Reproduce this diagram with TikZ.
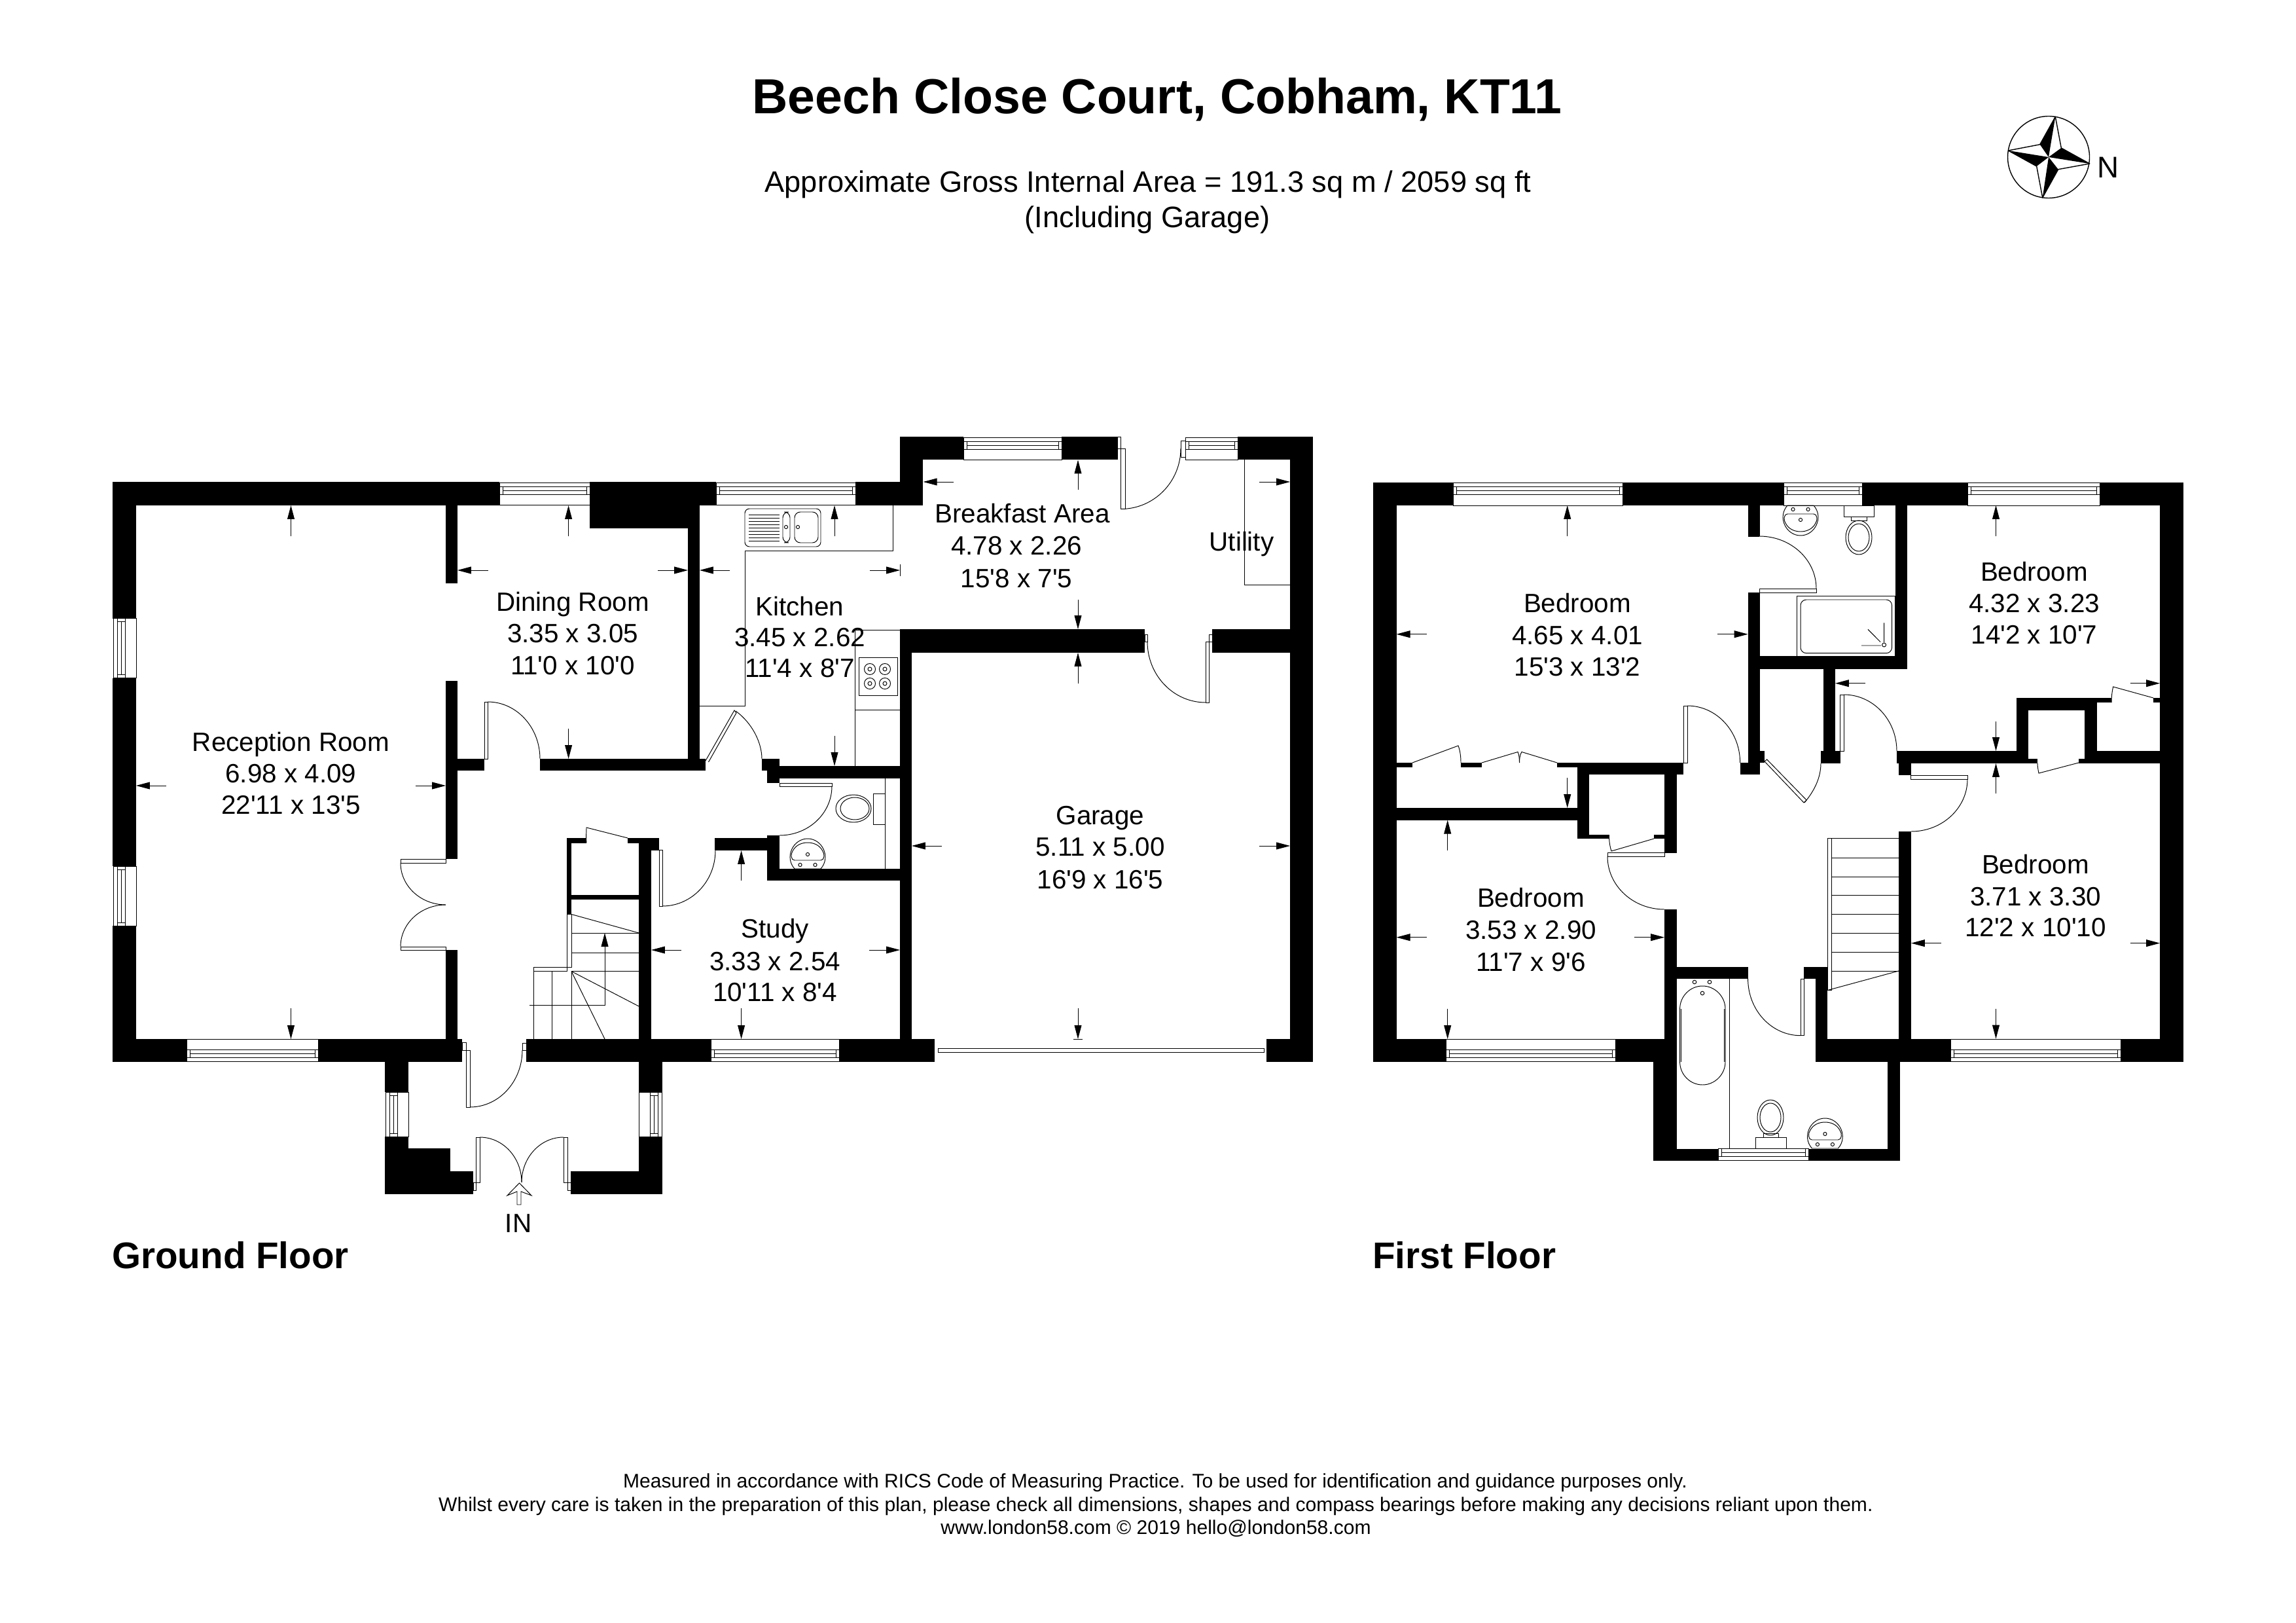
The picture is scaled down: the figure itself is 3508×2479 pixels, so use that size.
\documentclass[tikz,border=0pt]{standalone}
\usepackage{fontspec}
\setmainfont{Liberation Sans}
\newfontfamily\rf{Liberation Sans}
\usetikzlibrary{arrows.meta}
\tikzset{
  wall/.style={fill=black,draw=none},
  fine/.style={draw=black,line width=0.55pt},
  glass/.style={draw=black,line width=0.5pt,fill=white},
  dimarrow/.style={draw=black,line width=0.5pt,-{Triangle[length=11.9pt,width=6.2pt]}},
  room/.style={anchor=base,inner sep=0pt,font=\rf\fontsize{23}{28}\selectfont},
  small/.style={anchor=base,inner sep=0pt,font=\rf\fontsize{17.1}{20}\selectfont},
  floorname/.style={anchor=base west,inner sep=0pt,font=\rf\fontsize{32.2}{36}\selectfont\bfseries},
  subhead/.style={anchor=base,inner sep=0pt,font=\rf\fontsize{25.75}{30}\selectfont},
}
% wall block
\newcommand\W[4]{\fill[wall] (#1,#2) rectangle (#3,#4);}
% door leaf / thin box
\newcommand\Lf[4]{\draw[fine] (#1,#2) rectangle (#3,#4);}
% quarter arc: tangent horizontal at the start, vertical at the end
\newcommand\Qa[4]{\draw[fine] (#1,#2) .. controls ({#1+0.5523*(#3-#1)},#2) and (#3,{#4+0.5523*(#2-#4)}) .. (#3,#4);}
% horizontal window, outer face at y=#3, inner face at y=#4
\newcommand\Hw[4]{\draw[glass] (#1,#3) rectangle (#2,#4);
  \pgfmathsetmacro\sg{(#4>#3)?1:-1}
  \draw[fine] (#1,{#3+6*\sg}) rectangle (#2,{#3+18*\sg});
  \draw[fine] ({#1+5},{#3+6*\sg}) -- ({#1+5},{#3+18*\sg}) ({#2-5},{#3+6*\sg}) -- ({#2-5},{#3+18*\sg});
  \draw[fine] ({#1+5},{#3+12*\sg}) -- ({#2-5},{#3+12*\sg});}
% vertical window, outer face at x=#1, inner face at x=#2
\newcommand\Vw[4]{\draw[glass] (#1,#3) rectangle (#2,#4);
  \pgfmathsetmacro\sg{(#2>#1)?1:-1}
  \draw[fine] ({#1+6*\sg},#3) rectangle ({#1+18*\sg},#4);
  \draw[fine] ({#1+6*\sg},{#3+5}) -- ({#1+18*\sg},{#3+5}) ({#1+6*\sg},{#4-5}) -- ({#1+18*\sg},{#4-5});
  \draw[fine] ({#1+12*\sg},{#3+5}) -- ({#1+12*\sg},{#4-5});}
% arrow from tail to tip
\newcommand\Da[4]{\draw[dimarrow] (#1,#2) -- (#3,#4);}
% wash basin, flat side down (#3=1) or up (#3=-1)
\newcommand\Basin[3]{\begin{scope}[shift={(#1,#2)},yscale=#3]
  \draw[fine] (-20,23) -- (20,23) .. controls (36,5) and (22,-23) .. (0,-23) .. controls (-22,-23) and (-36,5) .. (-20,23) -- cycle;
  \draw[fine] (-20,10) -- (20,10) .. controls (26,10) and (26,0) .. (23,-4) .. controls (18,-14) and (8,-17) .. (0,-17) .. controls (-8,-17) and (-18,-14) .. (-23,-4) .. controls (-26,0) and (-26,10) .. (-20,10) -- cycle;
  \draw[fine] (-11.5,17) circle [radius=2.6] (11.5,17) circle [radius=2.6] (0,1) circle [radius=2.6];
  \end{scope}}
\begin{document}
\begin{tikzpicture}[x=0.2mm,y=-0.2mm]
\useasboundingbox (0,0) rectangle (3508,2479);
\fill[white] (0,0) rectangle (3508,2479);

% ---------------- GROUND FLOOR walls
\W{172}{736}{763}{772} \W{901}{736}{1094}{772} \W{1307}{736}{1410}{772}
\W{901}{772}{1051}{807}
\W{172}{736}{208}{944.5} \W{172}{1035.5}{208}{1323} \W{172}{1414}{208}{1622}
\W{172}{1587}{285}{1622} \W{486}{1587}{706}{1622} \W{804}{1587}{1086}{1622} \W{1282}{1587}{1428}{1622}
\W{681}{772}{699}{891} \W{681}{1040}{699}{1312} \W{681}{1451}{699}{1587}
\W{699}{1159}{740}{1177} \W{825}{1159}{1078}{1177}
\W{1051}{772}{1069}{1159}
\W{1375}{667}{1410}{772} \W{1375}{667}{1472}{702.5} \W{1622}{667}{1707.5}{702.5} \W{1891}{667}{2006}{702.5}
\W{1971}{667}{2006}{1622} \W{1935}{1587}{2006}{1622}
\W{1375}{961}{1749}{997} \W{1852}{961}{1971}{997}
\W{1375}{961}{1393}{1587}
\W{1191}{1170}{1375}{1189} \W{1164}{1159}{1191}{1177} \W{1172}{1177}{1191}{1196}
\W{1172}{1276}{1191}{1345} \W{1172}{1327}{1375}{1345}
\W{1092}{1280}{1173}{1299}
\W{976}{1280}{995}{1587} \W{959}{1280}{1007}{1287.5} \W{995}{1280}{1007}{1298.5}
\W{866}{1280}{873}{1396.5} \W{866}{1280}{896}{1287.5} \W{873}{1367}{976}{1374}
\W{588}{1622}{624}{1668} \W{588}{1736}{624}{1789} \W{588}{1754}{688}{1789} \W{588}{1789}{723}{1824}
\W{976}{1622}{1012}{1668} \W{976}{1736}{1012}{1824} \W{872}{1789}{1012}{1824}

% ground windows
\Hw{763}{901}{737}{771.5} \Hw{1094}{1307}{737}{771.5} \Hw{1472}{1622}{668}{702} \Hw{1811}{1891}{668}{702}
\Hw{285}{486}{1621.5}{1587} \Hw{1086}{1282}{1621.5}{1587}
\Vw{173}{208}{944.5}{1035.5} \Vw{173}{208}{1323}{1414}
\Vw{589}{624}{1668}{1736} \Vw{1011.5}{976}{1668}{1736}

% ground doors
\Lf{612}{1312}{681}{1318} \Lf{612}{1446}{681}{1451}
\Qa{681}{1382}{612}{1318} \Qa{681}{1382}{612}{1446}
\Lf{740}{1072}{745}{1159} \Qa{745}{1072}{825}{1159}
\Lf{712}{1604}{718}{1691} \Lf{706}{1592}{712}{1604} \Lf{798}{1593}{804}{1604} \Qa{718}{1691}{798}{1604}
\Lf{727}{1737}{733}{1806} \Lf{723}{1806}{727}{1818} \Lf{861}{1737}{867}{1806} \Lf{867}{1806}{872}{1818}
\Qa{733}{1737}{797}{1806} \Qa{861}{1737}{797}{1806}
\Lf{1007}{1298.5}{1012}{1384} \Qa{1012}{1384}{1093}{1299}
\Lf{1191}{1196}{1271}{1201} \Qa{1191}{1276}{1271}{1201}
\draw[fine] (1078,1162) -- (1122,1085) -- (1125,1089) -- (1082.5,1164);
\draw[fine] (1124,1086) .. controls (1150,1105) and (1164,1135) .. (1164,1159);
\Lf{1712.5}{685}{1719}{777.5} \Lf{1707.5}{667}{1712.5}{685} \Lf{1804}{673}{1811}{698} \Qa{1712.5}{777.5}{1804}{685}
\Lf{1842}{980}{1847.5}{1073} \Lf{1749}{969}{1753}{980} \Lf{1847.5}{969}{1852}{980} \Qa{1842}{1073}{1753}{980}
\Lf{1433}{1601}{1931}{1607}
% cupboard door under the stairs
\draw[fine] (896,1287.5) .. controls (895,1280) and (896,1272) .. (896,1264) -- (959,1280);

% stairs, ground
\draw[fine] (873,1396.5) -- (873,1477.6) -- (815,1477.6) -- (815,1587);
\draw[fine] (866,1396.5) -- (866,1483.6) -- (815,1483.6);
\draw[fine] (843,1483.6) -- (843,1587) (873,1483.6) -- (873,1587);
\draw[fine] (873,1425) -- (976,1425) (873,1455) -- (976,1455) (873,1483.6) -- (976,1483.6);
\draw[fine] (873,1396.5) -- (976,1425) (873,1483.6) -- (976,1537) (873,1483.6) -- (924,1587);
\draw[dimarrow] (809,1535) -- (924,1535) -- (924,1425);

% kitchen units
\draw[fine] (1364,772) -- (1364,841) -- (1138,841) -- (1138,1078) -- (1069,1078);
\draw[fine] (1375,962) -- (1306,962) -- (1306,1170) (1306,1084) -- (1375,1084);
\draw[fine] (1312,1004) rectangle (1371,1062);
\foreach \cx in {1329,1352} \foreach \cy in {1022,1044} {
  \draw[fine] (\cx,\cy) circle [radius=8.5] (\cx,\cy) circle [radius=3];}
\draw[fine,rounded corners=4] (1138,777) rectangle (1254,835);
\foreach \ly in {786,791,796,801,806,811,816,821,826} \draw[fine] (1144,\ly) -- (1191,\ly);
\draw[fine,rounded corners=5] (1196,782) rectangle (1207,829);
\draw[fine,rounded corners=5] (1214,782) rectangle (1250,829);
\draw[fine] (1201,805) circle [radius=2.6] (1219,805) circle [radius=2.6];
% utility unit
\draw[fine] (1901,702.5) -- (1901,893) -- (1971,893);
% WC
\draw[fine] (1352.5,1189) -- (1352.5,1327);
\draw[fine] (1334,1212) rectangle (1352.5,1259);
\draw[fine] (1304,1235) ellipse [x radius=27,y radius=21] (1306,1235) ellipse [x radius=22,y radius=17];
\Basin{1234}{1304}{1}
% garage tick, kitchen tick
\draw[fine] (1640,1587) -- (1654,1587) (1375,862) -- (1375,880);

% entrance arrow
\draw[fine] (790,1840) -- (790,1820) -- (775,1826) -- (793.5,1807) -- (812,1826) -- (796,1820) -- (796,1840) -- cycle;

% ---------------- FIRST FLOOR walls
\W{2098}{736.7}{2220.6}{772} \W{2479}{736.7}{2725}{772} \W{2845}{736.7}{3006}{772} \W{3208}{736.7}{3336}{772}
\W{2098}{736.7}{2133.6}{1622} \W{3300.4}{736.7}{3336}{1622}
\W{2098}{1587}{2209}{1622} \W{2468}{1587}{2561.7}{1622} \W{2774}{1587}{2980}{1622} \W{3240}{1587}{3336}{1622}
\W{2670.6}{772}{2688.5}{819} \W{2670.6}{905}{2688.5}{1182.6} \W{2658.6}{1165}{2688.5}{1182.6} \W{2688.5}{1147}{2696}{1165}
\W{2688}{1002}{2914}{1021.5} \W{2895.5}{772}{2914}{1021.5}
\W{2785.7}{1021.5}{2804}{1147} \W{2781.7}{1147}{2811.6}{1166}
\W{2133.6}{1165}{2158}{1171.5} \W{2232}{1165}{2264}{1171.5} \W{2379}{1165}{2409.5}{1171.5} \W{2409.5}{1165}{2572}{1182.6}
\W{2409.5}{1165}{2428}{1281} \W{2133.6}{1234}{2409.5}{1252.6} \W{2428}{1274.5}{2458.6}{1281} \W{2527}{1274.5}{2543}{1281}
\W{2543}{1182.6}{2561.7}{1303} \W{2543}{1389}{2561.7}{1622}
\W{2561.7}{1477}{2670.6}{1495} \W{2756}{1477}{2792}{1495} \W{2774}{1477}{2792}{1622}
\W{2526}{1622}{2561.7}{1772.8} \W{2526}{1754.5}{2625.5}{1772.8} \W{2763}{1754.5}{2902.7}{1772.8} \W{2884}{1622}{2902.7}{1772.8}
\W{2898}{1147}{3099}{1166} \W{3099}{1158.5}{3113}{1166} \W{3176}{1158.5}{3185}{1166} \W{3185}{1147}{3300.4}{1166}
\W{2901}{1166}{2920}{1184} \W{2901}{1270}{2920}{1622}
\W{3081}{1066}{3099}{1147} \W{3081}{1066}{3203.6}{1084.6} \W{3203.6}{1066}{3226}{1073} \W{3185}{1084.6}{3203.6}{1147} \W{3290}{1066}{3300.4}{1073}

% first-floor windows
\Hw{2220.6}{2479}{737.5}{772} \Hw{2725}{2845}{737.5}{772} \Hw{3006}{3208}{737.5}{772}
\Hw{2209}{2468}{1621.5}{1587} \Hw{2980}{3240}{1621.5}{1587}
\Hw{2625.5}{2763}{1772.5}{1754.5}

% first-floor doors
\Lf{2688.5}{899}{2775}{905.5} \draw[fine] (2670.6,819) -- (2688,819); \Qa{2688}{819}{2775}{899}
\Lf{2572}{1078}{2578}{1165} \Qa{2578}{1078}{2658.6}{1165}
\draw[fine] (2696,1163) -- (2699.6,1160) -- (2760,1222) -- (2756,1226) -- cycle;
\draw[fine] (2757,1226) .. controls (2772,1208) and (2782,1188) .. (2782,1166);
\Lf{2811.6}{1061}{2817}{1147} \Qa{2817}{1061}{2898}{1147}
\Lf{2919}{1184}{3006}{1190} \Qa{2920}{1270}{3006}{1190}
\Lf{2456}{1302.7}{2543}{1308.5} \Qa{2543}{1389}{2456}{1308}
\Lf{2751}{1495}{2756}{1581.7} \Qa{2751}{1581.7}{2670.6}{1495}
% wardrobe and cupboard doors
\draw[fine] (2158,1165) -- (2228,1139) .. controls (2231,1147) and (2232,1156) .. (2232,1165);
\draw[fine] (2264,1165) -- (2319,1148.5) .. controls (2321,1153) and (2321.5,1159) .. (2321.5,1165);
\draw[fine] (2379,1165) -- (2325,1148.5) .. controls (2322,1153) and (2321.5,1159) .. (2321.5,1165);
\draw[fine] (2458.6,1281) .. controls (2459,1288) and (2460,1294) .. (2462,1300) -- (2527,1281);
\draw[fine] (3113,1166) .. controls (3113,1171) and (3114,1176) .. (3115,1181) -- (3176,1165);
\draw[fine] (3226,1073) .. controls (3226,1064) and (3227,1056) .. (3228.6,1049) -- (3290,1066);

% first-floor stairs
\draw[fine] (2792.4,1280) rectangle (2798,1512.5);
\foreach \sy in {1280,1310,1339,1367.4,1396,1425.5,1454.5,1483} \draw[fine] (2798,\sy) -- (2901,\sy);
\draw[fine] (2792.4,1512.5) -- (2901,1483);

% ensuite
\Basin{2751}{795}{-1}
\draw[fine] (2817,772) rectangle (2863,789.5);
\draw[fine] (2828,789.5) rectangle (2852,795.7);
\draw[fine] (2840,821) ellipse [x radius=20,y radius=26] (2840,821) ellipse [x radius=16,y radius=21];
\draw[fine] (2745.5,910.5) rectangle (2895.5,1002);
\draw[fine,rounded corners=5] (2751,916) rectangle (2890.6,997.7);
\draw[fine] (2878.6,985) circle [radius=3];
\draw[fine] (2878.6,951.4) -- (2878.6,981) (2854,961.4) -- (2873,980.5) (2844,986) -- (2874,986);
% bathroom
\draw[fine] (2642,1495) -- (2642,1754.5);
\draw[fine] (2566.6,1541) .. controls (2566.6,1522) and (2582,1506) .. (2601.3,1506) .. controls (2620,1506) and (2636,1522) .. (2636,1541) -- (2636,1622) .. controls (2636,1641) and (2620,1657) .. (2601.3,1657) .. controls (2582,1657) and (2566.6,1641) .. (2566.6,1622) -- cycle;
\draw[fine] (2568.2,1541) -- (2568.2,1622) (2634.4,1541) -- (2634.4,1622);
\draw[fine] (2589,1500) circle [radius=2.8] (2612,1500) circle [radius=2.8] (2601,1517) circle [radius=2.8];
\draw[fine] (2682,1737.5) rectangle (2729,1754.5);
\draw[fine] (2694,1731) rectangle (2717,1737.5);
\draw[fine] (2705,1707) ellipse [x radius=20,y radius=27] (2705,1707) ellipse [x radius=16,y radius=22];
\Basin{2788.4}{1731}{1}

% ---------------- dimension arrows
\Da{444.5}{818.6}{444.5}{772} \Da{444.5}{1540}{444.5}{1587} \Da{254}{1200}{208}{1200} \Da{635}{1200}{681}{1200}
\Da{868.6}{818.6}{868.6}{772} \Da{868.6}{1113}{868.6}{1159} \Da{745.6}{871}{699}{871} \Da{1005}{871}{1051}{871}
\Da{1115}{871}{1069}{871} \Da{1329}{871}{1375}{871} \Da{1275}{818.6}{1275}{772} \Da{1275}{1124}{1275}{1170}
\Da{1457}{736}{1410.6}{736} \Da{1924}{736}{1971}{736} \Da{1647}{748.5}{1647}{702.5} \Da{1647}{916}{1647}{961}
\Da{1647}{1044}{1647}{997} \Da{1439}{1292}{1393}{1292} \Da{1924}{1292}{1971}{1292} \Da{1647}{1540}{1647}{1587}
\Da{1132.6}{1345}{1132.6}{1299} \Da{1132.6}{1540}{1132.6}{1587} \Da{1041}{1451}{995}{1451} \Da{1328}{1451}{1375}{1451}
\Da{2394.7}{818.6}{2394.7}{772} \Da{2394.7}{1188}{2394.7}{1234} \Da{2179.6}{968.7}{2133.6}{968.7} \Da{2624}{968.7}{2670.6}{968.7}
\Da{3049.5}{818.6}{3049.5}{772} \Da{3049.5}{1102}{3049.5}{1147} \Da{2850.4}{1043.7}{2804}{1043.7} \Da{3254.5}{1043.7}{3300}{1043.7}
\Da{3049.5}{1211.7}{3049.5}{1166} \Da{3049.5}{1540.6}{3049.5}{1586.6} \Da{2966}{1440.6}{2920}{1440.6} \Da{3254.5}{1440.6}{3300}{1440.6}
\Da{2211.7}{1298.7}{2211.7}{1252.6} \Da{2211.7}{1540.6}{2211.7}{1587} \Da{2179.6}{1431.7}{2133.6}{1431.7} \Da{2497}{1431.7}{2543}{1431.7}

% ---------------- compass
\draw[line width=0.8pt] (3130,240) circle [radius=62.5];
\fill (3140.3,178.3) -- (3116.7,220.7) -- (3130,240) -- cycle;
\fill (3192.7,250) -- (3149.3,226) -- (3130,240) -- cycle;
\fill (3120.7,302) -- (3144.7,258.7) -- (3130,240) -- cycle;
\fill (3068.3,230) -- (3111.7,254) -- (3130,240) -- cycle;
\draw[line width=0.8pt,line join=round] (3140.3,178.3) -- (3149.3,226) -- (3192.7,250) -- (3144.7,258.7) -- (3120.7,302) -- (3111.7,254) -- (3068.3,230) -- (3116.7,220.7) -- cycle;
\node[anchor=base,inner sep=0pt,font=\rf\fontsize{26}{30}\selectfont] (compassN) at (3221,272) {N};

% ---------------- texts
\node[anchor=base,inner sep=0pt,font=\rf\fontsize{42.8}{48}\selectfont\bfseries] (title) at (1768,174) {Beech Close Court, Cobham, KT11};
\node[subhead] (area) at (1754,294) {Approximate Gross Internal Area = 191.3 sq m / 2059 sq ft};
\node[subhead] (incl) at (1753,348) {(Including Garage)};
\node[floorname] (gf) at (171,1937) {Ground Floor};
\node[floorname] (ff) at (2097,1937) {First Floor};
\node[room] (inlbl) at (792,1882) {IN};
\node[small] (f1) at (1765,2272) {Measured in accordance with RICS Code of Measuring Practice. To be used for identification and guidance purposes only.};
\node[small] (f2) at (1766,2308) {Whilst every care is taken in the preparation of this plan, please check all dimensions, shapes and compass bearings before making any decisions reliant upon them.};
\node[small] (f3) at (1766,2343) {www.london58.com © 2019 hello@london58.com};

\node[room] (rr1) at (444.5,1147) {Reception Room};
\node[room] (rr2) at (444.5,1195) {6.98 x 4.09};
\node[room] (rr3) at (444.5,1243) {22'11 x 13'5};
\node[room] (dr1) at (875,933) {Dining Room};
\node[room] (dr2) at (875,981) {3.35 x 3.05};
\node[room] (dr3) at (875,1030) {11'0 x 10'0};
\node[room] (ki1) at (1222,940) {Kitchen};
\node[room] (ki2) at (1222,987) {3.45 x 2.62};
\node[room] (ki3) at (1222,1034) {11'4 x 8'7};
\node[room] (ba1) at (1562,799) {Breakfast Area};
\node[room] (ba2) at (1553,848) {4.78 x 2.26};
\node[room] (ba3) at (1553,897) {15'8 x 7'5};
\node[room] (ut1) at (1897,841) {Utility};
\node[room] (ga1) at (1681,1259) {Garage};
\node[room] (ga2) at (1681,1307) {5.11 x 5.00};
\node[room] (ga3) at (1681,1357) {16'9 x 16'5};
\node[room] (st1) at (1184,1432) {Study};
\node[room] (st2) at (1184,1482) {3.33 x 2.54};
\node[room] (st3) at (1184,1529) {10'11 x 8'4};
\node[room] (b11) at (2410,935) {Bedroom};
\node[room] (b12) at (2410,984) {4.65 x 4.01};
\node[room] (b13) at (2410,1032) {15'3 x 13'2};
\node[room] (b21) at (3108,887) {Bedroom};
\node[room] (b22) at (3108,935) {4.32 x 3.23};
\node[room] (b23) at (3108,983) {14'2 x 10'7};
\node[room] (b31) at (3110,1334) {Bedroom};
\node[room] (b32) at (3110,1383) {3.71 x 3.30};
\node[room] (b33) at (3110,1430) {12'2 x 10'10};
\node[room] (b41) at (2339,1385) {Bedroom};
\node[room] (b42) at (2339,1434) {3.53 x 2.90};
\node[room] (b43) at (2339,1483) {11'7 x 9'6};
\end{tikzpicture}
\end{document}
